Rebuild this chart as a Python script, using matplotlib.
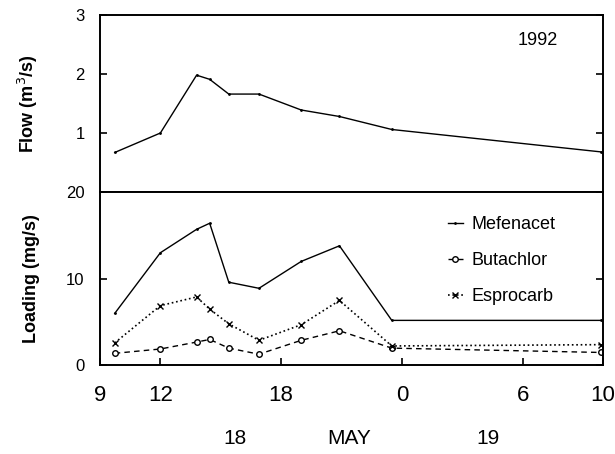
import numpy as np
import matplotlib
matplotlib.use('Agg')
import matplotlib.pyplot as plt
import matplotlib.transforms as mtransforms

plt.rcParams['font.family'] = ['Liberation Sans', 'DejaVu Sans']

# hours counted from 0:00 on May 18 (24 = 0:00 May 19)
hours = [9.73, 12.0, 13.8, 14.45, 15.4, 16.9, 19.0, 20.9, 23.5, 33.9]
flow = [0.67, 1.0, 1.98, 1.91, 1.66, 1.66, 1.39, 1.28, 1.06, 0.68]
mefenacet = [6.0, 13.0, 15.7, 16.4, 9.6, 8.9, 12.0, 13.8, 5.2, 5.2]
butachlor = [1.4, 1.9, 2.7, 3.0, 2.0, 1.3, 2.9, 4.0, 2.0, 1.5]
esprocarb = [2.6, 6.9, 7.9, 6.5, 4.8, 2.9, 4.7, 7.5, 2.25, 2.4]

xticks = [9, 12, 18, 24, 30, 34]
xticklabels = ['9', '12', '18', '0', '6', '10']
day_labels = [(15.7, '18'), (21.4, 'MAY'), (28.3, '19')]

fig = plt.figure(figsize=(6.15, 4.54), dpi=100)
ax1 = fig.add_axes([0.1626, 0.577, 0.818, 0.390])
ax2 = fig.add_axes([0.1626, 0.195, 0.818, 0.382])

for ax in (ax1, ax2):
    ax.set_xlim(9, 34)
    for s in ax.spines.values():
        s.set_linewidth(1.4)
    ax.tick_params(direction='in', length=5, width=1.2, right=True, top=False)
    ax.tick_params(axis='y', labelsize=12, pad=11)

# flow
ax1.plot(hours, flow, color='black', lw=1.0, marker='.', ms=2)
ax1.set_ylim(0, 3)
ax1.set_yticks([1, 2, 3])
ax1.set_xticks([])
ax1.set_ylabel('Flow (m$^3$/s)', fontsize=13, fontweight='bold')
ax1.yaxis.set_label_coords(-0.12, 0.5)
ax1.text(0.87, 0.83, '1992', transform=ax1.transAxes, fontsize=13, ha='center')

# loading
ax2.plot(hours, mefenacet, color='black', lw=1.0, ls='-', marker='.', ms=2, label='Mefenacet')
ax2.plot(hours, butachlor, color='black', lw=1.0, ls='--', dashes=(4, 3), marker='o', ms=4,
         mfc='white', mew=1.0, label='Butachlor')
ax2.plot(hours, esprocarb, color='black', lw=1.2, ls=':', marker='x', ms=4, mew=1.0, label='Esprocarb')
ax2.set_ylim(0, 20)
ax2.set_yticks([0, 10, 20])
ax2.set_xticks(xticks)
ax2.set_xticklabels(xticklabels, fontsize=16)
ax2.tick_params(axis='x', pad=14)
ax2.set_ylabel('Loading (mg/s)', fontsize=13, fontweight='bold')
ax2.yaxis.set_label_coords(-0.12, 0.5)

trans = mtransforms.blended_transform_factory(ax2.transData, ax2.transAxes)
for x, lab in day_labels:
    ax2.text(x, -0.42, lab, transform=trans, fontsize=15, ha='center', va='center')

ax2.legend(loc='upper left', bbox_to_anchor=(0.66, 0.955), frameon=False, fontsize=13,
           handlelength=0.8, handletextpad=0.5, labelspacing=1.05)

plt.savefig('out.png', dpi=100)
